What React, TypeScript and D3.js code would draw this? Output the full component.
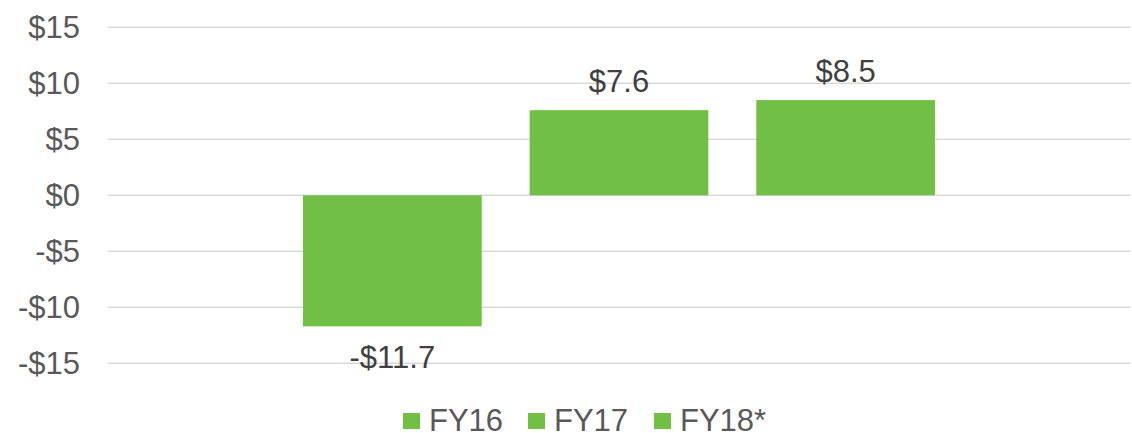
import React from "react";
import * as d3 from "d3";

const categories = [""];
const seriesNames = ["FY16", "FY17", "FY18*"];
const seriesValues = [-11.7, 7.6, 8.5];
const tickValues = [-15, -10, -5, 0, 5, 10, 15];
const dataLabels = ["-$11.7", "$7.6", "$8.5"];

const W = 1132;
const H = 433;
const GREEN = "#71BF45";
const FONT = "'Liberation Sans', Arial, sans-serif";
const FS = 31;

const fmtTick = (v: number) => (v < 0 ? `-$${Math.abs(v)}` : `$${v}`);

export default function App() {
  const plotLeft = 108;
  const plotRight = 1130;
  const y = d3.scaleLinear().domain([-15, 15]).range([363.3, 27.3]);

  const groupWidth = 632;
  const outer = d3
    .scaleBand<string>()
    .domain(categories)
    .range([plotLeft, plotRight])
    .paddingOuter(((plotRight - plotLeft - groupWidth) / 2) / groupWidth)
    .paddingInner(0);
  const inner = d3
    .scaleBand<string>()
    .domain(seriesNames)
    .range([0, outer.bandwidth()])
    .paddingInner(48 / 227)
    .paddingOuter(0);

  const x0 = outer(categories[0]) as number;

  const legendItems = [
    { name: seriesNames[0], sx: 403, tx: 429 },
    { name: seriesNames[1], sx: 528, tx: 554 },
    { name: seriesNames[2], sx: 654, tx: 680 },
  ];

  return (
    <svg
      width={W}
      height={H}
      style={{ position: "absolute", left: 0, top: 0, background: "#fff" }}
      fontFamily={FONT}
    >
      <rect x={0} y={0} width={W} height={H} fill="#fff" />
      {tickValues.map((t) => (
        <g key={t}>
          <line
            x1={plotLeft}
            x2={plotRight}
            y1={y(t)}
            y2={y(t)}
            stroke="#D9D9D9"
            strokeWidth={1.5}
          />
          <text
            x={80}
            y={y(t)}
            dy="0.35em"
            textAnchor="end"
            fontSize={FS}
            fill="#595959"
          >
            {fmtTick(t)}
          </text>
        </g>
      ))}
      {seriesNames.map((s, i) => {
        const v = seriesValues[i];
        const bx = x0 + (inner(s) as number);
        const bw = inner.bandwidth();
        const top = y(Math.max(0, v));
        const bottom = y(Math.min(0, v));
        return (
          <g key={s}>
            <rect x={bx} y={top} width={bw} height={bottom - top} fill={GREEN} />
            <text
              x={bx + bw / 2}
              y={v >= 0 ? top - 18 : bottom + 42}
              textAnchor="middle"
              fontSize={FS}
              fill="#404040"
            >
              {dataLabels[i]}
            </text>
          </g>
        );
      })}
      {legendItems.map((it) => (
        <g key={it.name}>
          <rect x={it.sx} y={413} width={17} height={16} fill={GREEN} />
          <text x={it.tx} y={431} fontSize={FS} fill="#595959">
            {it.name}
          </text>
        </g>
      ))}
    </svg>
  );
}
